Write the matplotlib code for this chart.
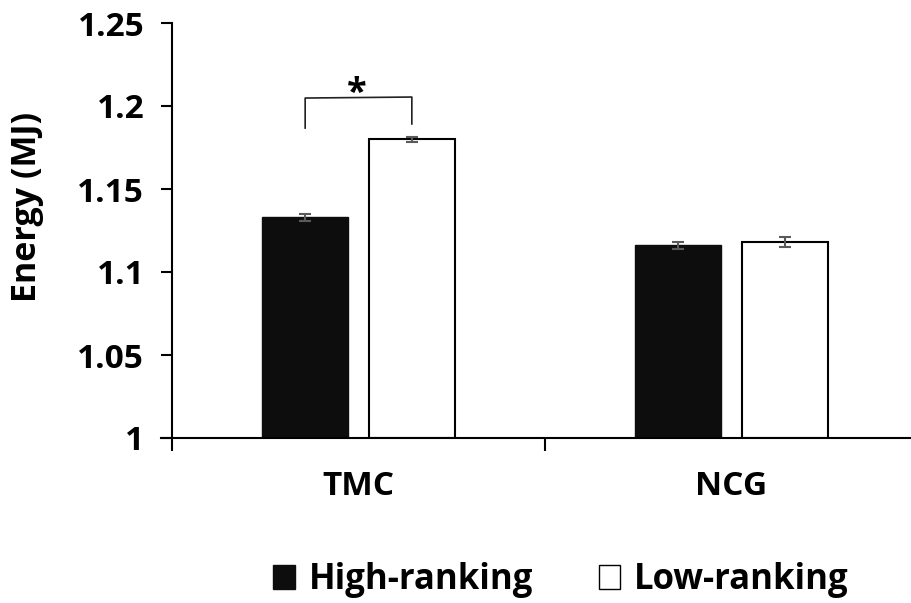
import matplotlib
matplotlib.use("Agg")
import matplotlib.pyplot as plt
from matplotlib.patches import Patch
import numpy as np

plt.rcParams['font.family'] = ['Open Sans', 'DejaVu Sans']
plt.rcParams['font.weight'] = 'bold'

categories = ["TMC", "NCG"]
series_names = ["High-ranking", "Low-ranking"]
high_vals = [1.133, 1.116]
high_err = [0.002, 0.002]
low_vals = [1.180, 1.118]
low_err = [0.0015, 0.003]
y_ticks = [1, 1.05, 1.1, 1.15, 1.2, 1.25]
y_tick_labels = ["1", "1.05", "1.1", "1.15", "1.2", "1.25"]

fig = plt.figure(figsize=(9.11, 6.03), dpi=100)
W, H = 911, 603
ax = fig.add_axes([172 / W, 1 - 438 / H, (918 - 172) / W, (438 - 23) / H])

x = np.arange(len(categories))
bw = 0.23
off = 0.143
ekw = dict(ecolor="#5a5a5a", elinewidth=1.5, capsize=4.5, capthick=1.5)
ax.bar(x - off, [v - 1 for v in high_vals], bw, bottom=1, color="#0d0d0d",
       edgecolor="#0d0d0d", linewidth=1, yerr=high_err, error_kw=ekw, zorder=2)
ax.bar(x + off, [v - 1 for v in low_vals], bw, bottom=1, color="white",
       edgecolor="black", linewidth=1.5, yerr=low_err, error_kw=ekw, zorder=2)

ax.set_xlim(-0.5, 1.5)
ax.set_ylim(1, 1.25)
ax.set_yticks(y_ticks)
ax.set_yticklabels(y_tick_labels)
ax.set_xticks([-0.5, 0.5, 1.5])
ax.set_xticklabels([])
ax.xaxis.set_minor_locator(matplotlib.ticker.FixedLocator(x))
ax.set_xticklabels(categories, minor=True)
ax.tick_params(axis="x", which="minor", length=0, pad=23, labelsize=24)
ax.tick_params(axis="x", which="major", length=9, width=1.5, direction="out")
ax.tick_params(axis="y", length=8, width=1.5, labelsize=24, pad=12)
for lab in ax.get_yticklabels() + ax.get_xticklabels(minor=True):
    lab.set_fontweight("bold")

for s in ["top", "right"]:
    ax.spines[s].set_visible(False)
for s in ["left", "bottom"]:
    ax.spines[s].set_linewidth(1.5)
ax.spines["bottom"].set_bounds(-0.53, 1.5)

ax.set_ylabel("Energy (MJ)", fontsize=24.5, fontweight="bold")
ax.yaxis.set_label_coords(-0.171, 0.557)

# significance bracket between TMC bars
xl, xr = x[0] - off, x[0] + off
ax.plot([xl, xl, xr, xr], [1.1867, 1.2048, 1.2054, 1.1892], color="#222222",
        lw=1.2, clip_on=False)
ax.text((xl + xr) / 2 - 0.005, 1.1966, "*", ha="center", va="bottom", fontsize=26,
        fontweight="bold")

handles = [Patch(facecolor="#0d0d0d", edgecolor="#0d0d0d"),
           Patch(facecolor="white", edgecolor="black", linewidth=1)]
fig.legend(handles, series_names, loc="center", bbox_to_anchor=(561 / W, 1 - 580 / H),
           ncol=2, frameon=False, prop=dict(size=25, weight="bold"),
           handlelength=0.62, handleheight=0.7, handletextpad=0.4, columnspacing=1.9)

fig.savefig("out.png", dpi=100)
